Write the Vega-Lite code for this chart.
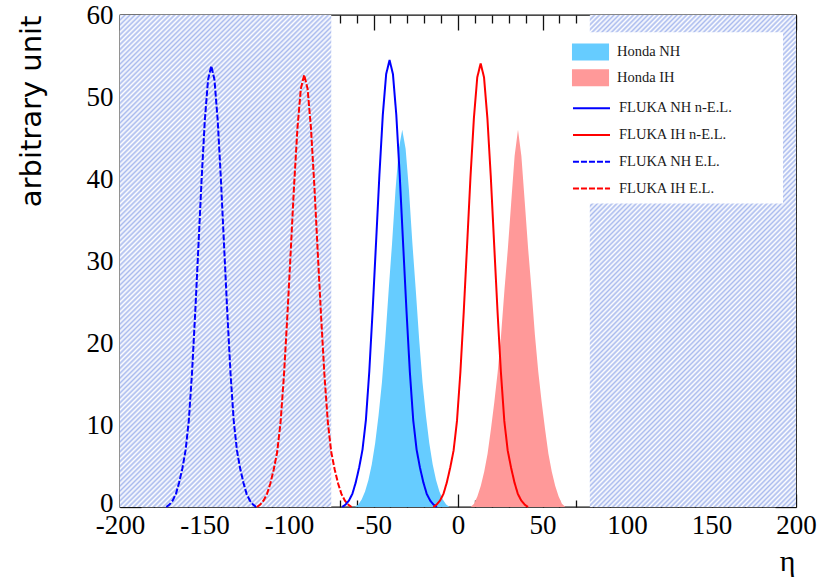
{
  "$schema": "https://vega.github.io/schema/vega-lite/v6.json",
  "width": 676,
  "height": 492,
  "autosize": "none",
  "padding": {"left": 120, "top": 15, "right": 28, "bottom": 73},
  "background": "white",
  "config": {
    "view": {"stroke": "#111", "strokeWidth": 1.3},
    "axis": {"grid": false, "domain": false, "zindex": 1, "labelFont": "Liberation Serif", "labelFontSize": 27, "labelColor": "#000", "tickColor": "#111", "tickWidth": 1.3, "labelFlush": false, "labelOverlap": false}
  },
  "datasets": {
    "regions": [
      {"x0": -200, "x1": -75, "y0": 0, "y1": 60},
      {"x0": 78, "x1": 200, "y0": 0, "y1": 60}
    ],
    "legendbox": [
      {"x0": 60, "x1": 192.3, "y0": 37, "y1": 57.9}
    ],
    "honda": [
      {"series": "Honda NH", "eta": -61, "value": 0},
      {"series": "Honda NH", "eta": -59, "value": 0.3},
      {"series": "Honda NH", "eta": -57, "value": 0.9},
      {"series": "Honda NH", "eta": -55, "value": 1.9},
      {"series": "Honda NH", "eta": -53, "value": 3.3},
      {"series": "Honda NH", "eta": -51, "value": 5.2},
      {"series": "Honda NH", "eta": -49, "value": 7.8},
      {"series": "Honda NH", "eta": -47, "value": 11.2},
      {"series": "Honda NH", "eta": -45, "value": 15.2},
      {"series": "Honda NH", "eta": -43, "value": 20.5},
      {"series": "Honda NH", "eta": -41, "value": 26.5},
      {"series": "Honda NH", "eta": -39, "value": 32.2},
      {"series": "Honda NH", "eta": -37, "value": 38.6},
      {"series": "Honda NH", "eta": -35, "value": 43.7},
      {"series": "Honda NH", "eta": -33, "value": 46},
      {"series": "Honda NH", "eta": -31, "value": 43.7},
      {"series": "Honda NH", "eta": -29, "value": 38.6},
      {"series": "Honda NH", "eta": -27, "value": 32.2},
      {"series": "Honda NH", "eta": -25, "value": 26.5},
      {"series": "Honda NH", "eta": -23, "value": 20.5},
      {"series": "Honda NH", "eta": -21, "value": 15.2},
      {"series": "Honda NH", "eta": -19, "value": 11.2},
      {"series": "Honda NH", "eta": -17, "value": 7.8},
      {"series": "Honda NH", "eta": -15, "value": 5.2},
      {"series": "Honda NH", "eta": -13, "value": 3.3},
      {"series": "Honda NH", "eta": -11, "value": 1.9},
      {"series": "Honda NH", "eta": -9, "value": 0.9},
      {"series": "Honda NH", "eta": -7, "value": 0.3},
      {"series": "Honda NH", "eta": -5, "value": 0},
      {"series": "Honda IH", "eta": 7.5, "value": 0},
      {"series": "Honda IH", "eta": 9.5, "value": 0.4},
      {"series": "Honda IH", "eta": 11.5, "value": 1.3},
      {"series": "Honda IH", "eta": 13.5, "value": 2.6},
      {"series": "Honda IH", "eta": 15.5, "value": 4.3},
      {"series": "Honda IH", "eta": 17.5, "value": 6.5},
      {"series": "Honda IH", "eta": 19.5, "value": 9.5},
      {"series": "Honda IH", "eta": 21.5, "value": 12.8},
      {"series": "Honda IH", "eta": 23.5, "value": 16.5},
      {"series": "Honda IH", "eta": 25.5, "value": 21},
      {"series": "Honda IH", "eta": 27.5, "value": 26.5},
      {"series": "Honda IH", "eta": 29.5, "value": 31.5},
      {"series": "Honda IH", "eta": 31.5, "value": 37.2},
      {"series": "Honda IH", "eta": 33.5, "value": 42.8},
      {"series": "Honda IH", "eta": 35.5, "value": 46},
      {"series": "Honda IH", "eta": 37.5, "value": 42.8},
      {"series": "Honda IH", "eta": 39.5, "value": 37.2},
      {"series": "Honda IH", "eta": 41.5, "value": 31.5},
      {"series": "Honda IH", "eta": 43.5, "value": 26.5},
      {"series": "Honda IH", "eta": 45.5, "value": 21},
      {"series": "Honda IH", "eta": 47.5, "value": 16.5},
      {"series": "Honda IH", "eta": 49.5, "value": 12.8},
      {"series": "Honda IH", "eta": 51.5, "value": 9.5},
      {"series": "Honda IH", "eta": 53.5, "value": 6.5},
      {"series": "Honda IH", "eta": 55.5, "value": 4.3},
      {"series": "Honda IH", "eta": 57.5, "value": 2.6},
      {"series": "Honda IH", "eta": 59.5, "value": 1.3},
      {"series": "Honda IH", "eta": 61.5, "value": 0.4},
      {"series": "Honda IH", "eta": 63.5, "value": 0}
    ],
    "fluka": [
      {"series": "FLUKA NH E.L.", "eta": -172.6, "value": 0},
      {"series": "FLUKA NH E.L.", "eta": -170.7, "value": 0.3},
      {"series": "FLUKA NH E.L.", "eta": -168.8, "value": 0.8},
      {"series": "FLUKA NH E.L.", "eta": -166.9, "value": 1.6},
      {"series": "FLUKA NH E.L.", "eta": -165, "value": 3.0},
      {"series": "FLUKA NH E.L.", "eta": -163.1, "value": 4.7},
      {"series": "FLUKA NH E.L.", "eta": -161.2, "value": 6.9},
      {"series": "FLUKA NH E.L.", "eta": -159.3, "value": 10.5},
      {"series": "FLUKA NH E.L.", "eta": -157.4, "value": 16.3},
      {"series": "FLUKA NH E.L.", "eta": -155.5, "value": 23.7},
      {"series": "FLUKA NH E.L.", "eta": -153.6, "value": 31.8},
      {"series": "FLUKA NH E.L.", "eta": -151.7, "value": 40.0},
      {"series": "FLUKA NH E.L.", "eta": -149.8, "value": 47.2},
      {"series": "FLUKA NH E.L.", "eta": -147.9, "value": 52.1},
      {"series": "FLUKA NH E.L.", "eta": -146, "value": 53.8},
      {"series": "FLUKA NH E.L.", "eta": -144.1, "value": 52.1},
      {"series": "FLUKA NH E.L.", "eta": -142.2, "value": 47.2},
      {"series": "FLUKA NH E.L.", "eta": -140.3, "value": 40.0},
      {"series": "FLUKA NH E.L.", "eta": -138.4, "value": 31.8},
      {"series": "FLUKA NH E.L.", "eta": -136.5, "value": 23.7},
      {"series": "FLUKA NH E.L.", "eta": -134.6, "value": 16.3},
      {"series": "FLUKA NH E.L.", "eta": -132.7, "value": 10.5},
      {"series": "FLUKA NH E.L.", "eta": -130.8, "value": 6.9},
      {"series": "FLUKA NH E.L.", "eta": -128.9, "value": 4.7},
      {"series": "FLUKA NH E.L.", "eta": -127, "value": 3.0},
      {"series": "FLUKA NH E.L.", "eta": -125.1, "value": 1.6},
      {"series": "FLUKA NH E.L.", "eta": -123.2, "value": 0.8},
      {"series": "FLUKA NH E.L.", "eta": -121.3, "value": 0.3},
      {"series": "FLUKA NH E.L.", "eta": -119.4, "value": 0},
      {"series": "FLUKA IH E.L.", "eta": -119, "value": 0},
      {"series": "FLUKA IH E.L.", "eta": -117, "value": 0.3},
      {"series": "FLUKA IH E.L.", "eta": -115, "value": 0.8},
      {"series": "FLUKA IH E.L.", "eta": -113, "value": 1.6},
      {"series": "FLUKA IH E.L.", "eta": -111, "value": 2.9},
      {"series": "FLUKA IH E.L.", "eta": -109, "value": 4.6},
      {"series": "FLUKA IH E.L.", "eta": -107, "value": 6.7},
      {"series": "FLUKA IH E.L.", "eta": -105, "value": 10.3},
      {"series": "FLUKA IH E.L.", "eta": -103, "value": 16.0},
      {"series": "FLUKA IH E.L.", "eta": -101, "value": 23.2},
      {"series": "FLUKA IH E.L.", "eta": -99, "value": 31.1},
      {"series": "FLUKA IH E.L.", "eta": -97, "value": 39.2},
      {"series": "FLUKA IH E.L.", "eta": -95, "value": 46.2},
      {"series": "FLUKA IH E.L.", "eta": -93, "value": 51.0},
      {"series": "FLUKA IH E.L.", "eta": -91, "value": 52.7},
      {"series": "FLUKA IH E.L.", "eta": -89, "value": 51.0},
      {"series": "FLUKA IH E.L.", "eta": -87, "value": 46.2},
      {"series": "FLUKA IH E.L.", "eta": -85, "value": 39.2},
      {"series": "FLUKA IH E.L.", "eta": -83, "value": 31.1},
      {"series": "FLUKA IH E.L.", "eta": -81, "value": 23.2},
      {"series": "FLUKA IH E.L.", "eta": -79, "value": 16.0},
      {"series": "FLUKA IH E.L.", "eta": -77, "value": 10.3},
      {"series": "FLUKA IH E.L.", "eta": -75, "value": 6.7},
      {"series": "FLUKA IH E.L.", "eta": -73, "value": 4.6},
      {"series": "FLUKA IH E.L.", "eta": -71, "value": 2.9},
      {"series": "FLUKA IH E.L.", "eta": -69, "value": 1.6},
      {"series": "FLUKA IH E.L.", "eta": -67, "value": 0.8},
      {"series": "FLUKA IH E.L.", "eta": -65, "value": 0.3},
      {"series": "FLUKA IH E.L.", "eta": -63, "value": 0},
      {"series": "FLUKA NH n-E.L.", "eta": -68.5, "value": 0},
      {"series": "FLUKA NH n-E.L.", "eta": -66.5, "value": 0.3},
      {"series": "FLUKA NH n-E.L.", "eta": -64.5, "value": 0.8},
      {"series": "FLUKA NH n-E.L.", "eta": -62.5, "value": 1.6},
      {"series": "FLUKA NH n-E.L.", "eta": -60.5, "value": 3.0},
      {"series": "FLUKA NH n-E.L.", "eta": -58.5, "value": 4.8},
      {"series": "FLUKA NH n-E.L.", "eta": -56.5, "value": 7.0},
      {"series": "FLUKA NH n-E.L.", "eta": -54.5, "value": 10.6},
      {"series": "FLUKA NH n-E.L.", "eta": -52.5, "value": 16.5},
      {"series": "FLUKA NH n-E.L.", "eta": -50.5, "value": 24.0},
      {"series": "FLUKA NH n-E.L.", "eta": -48.5, "value": 32.2},
      {"series": "FLUKA NH n-E.L.", "eta": -46.5, "value": 40.5},
      {"series": "FLUKA NH n-E.L.", "eta": -44.5, "value": 47.8},
      {"series": "FLUKA NH n-E.L.", "eta": -42.5, "value": 52.8},
      {"series": "FLUKA NH n-E.L.", "eta": -40.5, "value": 54.5},
      {"series": "FLUKA NH n-E.L.", "eta": -38.5, "value": 52.8},
      {"series": "FLUKA NH n-E.L.", "eta": -36.5, "value": 47.8},
      {"series": "FLUKA NH n-E.L.", "eta": -34.5, "value": 40.5},
      {"series": "FLUKA NH n-E.L.", "eta": -32.5, "value": 32.2},
      {"series": "FLUKA NH n-E.L.", "eta": -30.5, "value": 24.0},
      {"series": "FLUKA NH n-E.L.", "eta": -28.5, "value": 16.5},
      {"series": "FLUKA NH n-E.L.", "eta": -26.5, "value": 10.6},
      {"series": "FLUKA NH n-E.L.", "eta": -24.5, "value": 7.0},
      {"series": "FLUKA NH n-E.L.", "eta": -22.5, "value": 4.8},
      {"series": "FLUKA NH n-E.L.", "eta": -20.5, "value": 3.0},
      {"series": "FLUKA NH n-E.L.", "eta": -18.5, "value": 1.6},
      {"series": "FLUKA NH n-E.L.", "eta": -16.5, "value": 0.8},
      {"series": "FLUKA NH n-E.L.", "eta": -14.5, "value": 0.3},
      {"series": "FLUKA NH n-E.L.", "eta": -12.5, "value": 0},
      {"series": "FLUKA IH n-E.L.", "eta": -14.6, "value": 0},
      {"series": "FLUKA IH n-E.L.", "eta": -12.6, "value": 0.3},
      {"series": "FLUKA IH n-E.L.", "eta": -10.6, "value": 0.8},
      {"series": "FLUKA IH n-E.L.", "eta": -8.6, "value": 1.6},
      {"series": "FLUKA IH n-E.L.", "eta": -6.6, "value": 3.0},
      {"series": "FLUKA IH n-E.L.", "eta": -4.6, "value": 4.8},
      {"series": "FLUKA IH n-E.L.", "eta": -2.6, "value": 6.9},
      {"series": "FLUKA IH n-E.L.", "eta": -0.6, "value": 10.5},
      {"series": "FLUKA IH n-E.L.", "eta": 1.4, "value": 16.4},
      {"series": "FLUKA IH n-E.L.", "eta": 3.4, "value": 23.8},
      {"series": "FLUKA IH n-E.L.", "eta": 5.4, "value": 32.0},
      {"series": "FLUKA IH n-E.L.", "eta": 7.4, "value": 40.3},
      {"series": "FLUKA IH n-E.L.", "eta": 9.4, "value": 47.4},
      {"series": "FLUKA IH n-E.L.", "eta": 11.4, "value": 52.4},
      {"series": "FLUKA IH n-E.L.", "eta": 13.4, "value": 54.1},
      {"series": "FLUKA IH n-E.L.", "eta": 15.4, "value": 52.4},
      {"series": "FLUKA IH n-E.L.", "eta": 17.4, "value": 47.4},
      {"series": "FLUKA IH n-E.L.", "eta": 19.4, "value": 40.3},
      {"series": "FLUKA IH n-E.L.", "eta": 21.4, "value": 32.0},
      {"series": "FLUKA IH n-E.L.", "eta": 23.4, "value": 23.8},
      {"series": "FLUKA IH n-E.L.", "eta": 25.4, "value": 16.4},
      {"series": "FLUKA IH n-E.L.", "eta": 27.4, "value": 10.5},
      {"series": "FLUKA IH n-E.L.", "eta": 29.4, "value": 6.9},
      {"series": "FLUKA IH n-E.L.", "eta": 31.4, "value": 4.8},
      {"series": "FLUKA IH n-E.L.", "eta": 33.4, "value": 3.0},
      {"series": "FLUKA IH n-E.L.", "eta": 35.4, "value": 1.6},
      {"series": "FLUKA IH n-E.L.", "eta": 37.4, "value": 0.8},
      {"series": "FLUKA IH n-E.L.", "eta": 39.4, "value": 0.3},
      {"series": "FLUKA IH n-E.L.", "eta": 41.4, "value": 0}
    ]
  },
  "layer": [
    {
      "data": {"name": "regions"},
      "mark": {
        "type": "rect",
        "fill": {
          "gradient": "linear", "x1": 0, "y1": 0, "x2": 0.5127, "y2": 1.207,
          "stops": [
            {"offset": 0, "color": "#abe"}, {"offset": 0.0035, "color": "#fff"}, {"offset": 0.007, "color": "#abe"}, {"offset": 0.0105, "color": "#fff"}, {"offset": 0.014, "color": "#abe"}, {"offset": 0.0175, "color": "#fff"}, {"offset": 0.021, "color": "#abe"}, {"offset": 0.0245, "color": "#fff"}, {"offset": 0.028, "color": "#abe"}, {"offset": 0.0315, "color": "#fff"}, {"offset": 0.035, "color": "#abe"}, {"offset": 0.0385, "color": "#fff"}, {"offset": 0.042, "color": "#abe"}, {"offset": 0.0455, "color": "#fff"}, {"offset": 0.049, "color": "#abe"}, {"offset": 0.0525, "color": "#fff"}, {"offset": 0.056, "color": "#abe"}, {"offset": 0.0595, "color": "#fff"}, {"offset": 0.063, "color": "#abe"}, {"offset": 0.0665, "color": "#fff"},
            {"offset": 0.07, "color": "#abe"}, {"offset": 0.0735, "color": "#fff"}, {"offset": 0.077, "color": "#abe"}, {"offset": 0.0805, "color": "#fff"}, {"offset": 0.084, "color": "#abe"}, {"offset": 0.0875, "color": "#fff"}, {"offset": 0.091, "color": "#abe"}, {"offset": 0.0945, "color": "#fff"}, {"offset": 0.098, "color": "#abe"}, {"offset": 0.1015, "color": "#fff"}, {"offset": 0.105, "color": "#abe"}, {"offset": 0.1085, "color": "#fff"}, {"offset": 0.112, "color": "#abe"}, {"offset": 0.1155, "color": "#fff"}, {"offset": 0.119, "color": "#abe"}, {"offset": 0.1225, "color": "#fff"}, {"offset": 0.126, "color": "#abe"}, {"offset": 0.1295, "color": "#fff"}, {"offset": 0.133, "color": "#abe"}, {"offset": 0.1365, "color": "#fff"},
            {"offset": 0.14, "color": "#abe"}, {"offset": 0.1435, "color": "#fff"}, {"offset": 0.147, "color": "#abe"}, {"offset": 0.1505, "color": "#fff"}, {"offset": 0.154, "color": "#abe"}, {"offset": 0.1575, "color": "#fff"}, {"offset": 0.161, "color": "#abe"}, {"offset": 0.1645, "color": "#fff"}, {"offset": 0.168, "color": "#abe"}, {"offset": 0.1715, "color": "#fff"}, {"offset": 0.175, "color": "#abe"}, {"offset": 0.1785, "color": "#fff"}, {"offset": 0.182, "color": "#abe"}, {"offset": 0.1855, "color": "#fff"}, {"offset": 0.189, "color": "#abe"}, {"offset": 0.1925, "color": "#fff"}, {"offset": 0.196, "color": "#abe"}, {"offset": 0.1995, "color": "#fff"}, {"offset": 0.203, "color": "#abe"}, {"offset": 0.2065, "color": "#fff"},
            {"offset": 0.21, "color": "#abe"}, {"offset": 0.2135, "color": "#fff"}, {"offset": 0.217, "color": "#abe"}, {"offset": 0.2205, "color": "#fff"}, {"offset": 0.224, "color": "#abe"}, {"offset": 0.2275, "color": "#fff"}, {"offset": 0.231, "color": "#abe"}, {"offset": 0.2345, "color": "#fff"}, {"offset": 0.238, "color": "#abe"}, {"offset": 0.2415, "color": "#fff"}, {"offset": 0.245, "color": "#abe"}, {"offset": 0.2485, "color": "#fff"}, {"offset": 0.252, "color": "#abe"}, {"offset": 0.2555, "color": "#fff"}, {"offset": 0.259, "color": "#abe"}, {"offset": 0.2625, "color": "#fff"}, {"offset": 0.266, "color": "#abe"}, {"offset": 0.2695, "color": "#fff"}, {"offset": 0.273, "color": "#abe"}, {"offset": 0.2765, "color": "#fff"},
            {"offset": 0.28, "color": "#abe"}, {"offset": 0.2835, "color": "#fff"}, {"offset": 0.287, "color": "#abe"}, {"offset": 0.2905, "color": "#fff"}, {"offset": 0.294, "color": "#abe"}, {"offset": 0.2975, "color": "#fff"}, {"offset": 0.301, "color": "#abe"}, {"offset": 0.3045, "color": "#fff"}, {"offset": 0.308, "color": "#abe"}, {"offset": 0.3115, "color": "#fff"}, {"offset": 0.315, "color": "#abe"}, {"offset": 0.3185, "color": "#fff"}, {"offset": 0.322, "color": "#abe"}, {"offset": 0.3255, "color": "#fff"}, {"offset": 0.329, "color": "#abe"}, {"offset": 0.3325, "color": "#fff"}, {"offset": 0.336, "color": "#abe"}, {"offset": 0.3395, "color": "#fff"}, {"offset": 0.343, "color": "#abe"}, {"offset": 0.3465, "color": "#fff"},
            {"offset": 0.35, "color": "#abe"}, {"offset": 0.3535, "color": "#fff"}, {"offset": 0.357, "color": "#abe"}, {"offset": 0.3605, "color": "#fff"}, {"offset": 0.364, "color": "#abe"}, {"offset": 0.3675, "color": "#fff"}, {"offset": 0.371, "color": "#abe"}, {"offset": 0.3745, "color": "#fff"}, {"offset": 0.378, "color": "#abe"}, {"offset": 0.3815, "color": "#fff"}, {"offset": 0.385, "color": "#abe"}, {"offset": 0.3885, "color": "#fff"}, {"offset": 0.392, "color": "#abe"}, {"offset": 0.3955, "color": "#fff"}, {"offset": 0.399, "color": "#abe"}, {"offset": 0.4025, "color": "#fff"}, {"offset": 0.406, "color": "#abe"}, {"offset": 0.4095, "color": "#fff"}, {"offset": 0.413, "color": "#abe"}, {"offset": 0.4165, "color": "#fff"},
            {"offset": 0.42, "color": "#abe"}, {"offset": 0.4235, "color": "#fff"}, {"offset": 0.427, "color": "#abe"}, {"offset": 0.4305, "color": "#fff"}, {"offset": 0.434, "color": "#abe"}, {"offset": 0.4375, "color": "#fff"}, {"offset": 0.441, "color": "#abe"}, {"offset": 0.4445, "color": "#fff"}, {"offset": 0.448, "color": "#abe"}, {"offset": 0.4515, "color": "#fff"}, {"offset": 0.455, "color": "#abe"}, {"offset": 0.4585, "color": "#fff"}, {"offset": 0.462, "color": "#abe"}, {"offset": 0.4655, "color": "#fff"}, {"offset": 0.469, "color": "#abe"}, {"offset": 0.4725, "color": "#fff"}, {"offset": 0.476, "color": "#abe"}, {"offset": 0.4795, "color": "#fff"}, {"offset": 0.483, "color": "#abe"}, {"offset": 0.4865, "color": "#fff"},
            {"offset": 0.49, "color": "#abe"}, {"offset": 0.4935, "color": "#fff"}, {"offset": 0.497, "color": "#abe"}, {"offset": 0.5005, "color": "#fff"}, {"offset": 0.504, "color": "#abe"}, {"offset": 0.5075, "color": "#fff"}, {"offset": 0.511, "color": "#abe"}, {"offset": 0.5145, "color": "#fff"}, {"offset": 0.518, "color": "#abe"}, {"offset": 0.5215, "color": "#fff"}, {"offset": 0.525, "color": "#abe"}, {"offset": 0.5285, "color": "#fff"}, {"offset": 0.532, "color": "#abe"}, {"offset": 0.5355, "color": "#fff"}, {"offset": 0.539, "color": "#abe"}, {"offset": 0.5425, "color": "#fff"}, {"offset": 0.546, "color": "#abe"}, {"offset": 0.5495, "color": "#fff"}, {"offset": 0.553, "color": "#abe"}, {"offset": 0.5565, "color": "#fff"},
            {"offset": 0.56, "color": "#abe"}, {"offset": 0.5635, "color": "#fff"}, {"offset": 0.567, "color": "#abe"}, {"offset": 0.5705, "color": "#fff"}, {"offset": 0.574, "color": "#abe"}, {"offset": 0.5775, "color": "#fff"}, {"offset": 0.581, "color": "#abe"}, {"offset": 0.5845, "color": "#fff"}, {"offset": 0.588, "color": "#abe"}, {"offset": 0.5915, "color": "#fff"}, {"offset": 0.595, "color": "#abe"}, {"offset": 0.5985, "color": "#fff"}, {"offset": 0.602, "color": "#abe"}, {"offset": 0.6055, "color": "#fff"}, {"offset": 0.609, "color": "#abe"}, {"offset": 0.6125, "color": "#fff"}, {"offset": 0.616, "color": "#abe"}, {"offset": 0.6195, "color": "#fff"}, {"offset": 0.623, "color": "#abe"}, {"offset": 0.6265, "color": "#fff"},
            {"offset": 0.63, "color": "#abe"}, {"offset": 0.6335, "color": "#fff"}, {"offset": 0.637, "color": "#abe"}, {"offset": 0.6405, "color": "#fff"}, {"offset": 0.644, "color": "#abe"}, {"offset": 0.6475, "color": "#fff"}, {"offset": 0.651, "color": "#abe"}, {"offset": 0.6545, "color": "#fff"}, {"offset": 0.658, "color": "#abe"}, {"offset": 0.6615, "color": "#fff"}, {"offset": 0.665, "color": "#abe"}, {"offset": 0.6685, "color": "#fff"}, {"offset": 0.672, "color": "#abe"}, {"offset": 0.6755, "color": "#fff"}, {"offset": 0.679, "color": "#abe"}, {"offset": 0.6825, "color": "#fff"}, {"offset": 0.686, "color": "#abe"}, {"offset": 0.6895, "color": "#fff"}, {"offset": 0.693, "color": "#abe"}, {"offset": 0.6965, "color": "#fff"},
            {"offset": 0.7, "color": "#abe"}, {"offset": 0.7035, "color": "#fff"}, {"offset": 0.707, "color": "#abe"}, {"offset": 0.7105, "color": "#fff"}, {"offset": 0.714, "color": "#abe"}, {"offset": 0.7175, "color": "#fff"}, {"offset": 0.721, "color": "#abe"}, {"offset": 0.7245, "color": "#fff"}, {"offset": 0.728, "color": "#abe"}, {"offset": 0.7315, "color": "#fff"}, {"offset": 0.735, "color": "#abe"}, {"offset": 0.7385, "color": "#fff"}, {"offset": 0.742, "color": "#abe"}, {"offset": 0.7455, "color": "#fff"}, {"offset": 0.749, "color": "#abe"}, {"offset": 0.7525, "color": "#fff"}, {"offset": 0.756, "color": "#abe"}, {"offset": 0.7595, "color": "#fff"}, {"offset": 0.763, "color": "#abe"}, {"offset": 0.7665, "color": "#fff"},
            {"offset": 0.77, "color": "#abe"}, {"offset": 0.7735, "color": "#fff"}, {"offset": 0.777, "color": "#abe"}, {"offset": 0.7805, "color": "#fff"}, {"offset": 0.784, "color": "#abe"}, {"offset": 0.7875, "color": "#fff"}, {"offset": 0.791, "color": "#abe"}, {"offset": 0.7945, "color": "#fff"}, {"offset": 0.798, "color": "#abe"}, {"offset": 0.8015, "color": "#fff"}, {"offset": 0.805, "color": "#abe"}, {"offset": 0.8085, "color": "#fff"}, {"offset": 0.812, "color": "#abe"}, {"offset": 0.8155, "color": "#fff"}, {"offset": 0.819, "color": "#abe"}, {"offset": 0.8225, "color": "#fff"}, {"offset": 0.826, "color": "#abe"}, {"offset": 0.8295, "color": "#fff"}, {"offset": 0.833, "color": "#abe"}, {"offset": 0.8365, "color": "#fff"},
            {"offset": 0.84, "color": "#abe"}, {"offset": 0.8435, "color": "#fff"}, {"offset": 0.847, "color": "#abe"}, {"offset": 0.8505, "color": "#fff"}, {"offset": 0.854, "color": "#abe"}, {"offset": 0.8575, "color": "#fff"}, {"offset": 0.861, "color": "#abe"}, {"offset": 0.8645, "color": "#fff"}, {"offset": 0.868, "color": "#abe"}, {"offset": 0.8715, "color": "#fff"}, {"offset": 0.875, "color": "#abe"}, {"offset": 0.8785, "color": "#fff"}, {"offset": 0.882, "color": "#abe"}, {"offset": 0.8855, "color": "#fff"}, {"offset": 0.889, "color": "#abe"}, {"offset": 0.8925, "color": "#fff"}, {"offset": 0.896, "color": "#abe"}, {"offset": 0.8995, "color": "#fff"}, {"offset": 0.903, "color": "#abe"}, {"offset": 0.9065, "color": "#fff"},
            {"offset": 0.91, "color": "#abe"}, {"offset": 0.9135, "color": "#fff"}, {"offset": 0.917, "color": "#abe"}, {"offset": 0.9205, "color": "#fff"}, {"offset": 0.924, "color": "#abe"}, {"offset": 0.9275, "color": "#fff"}, {"offset": 0.931, "color": "#abe"}, {"offset": 0.9345, "color": "#fff"}, {"offset": 0.938, "color": "#abe"}, {"offset": 0.9415, "color": "#fff"}, {"offset": 0.945, "color": "#abe"}, {"offset": 0.9485, "color": "#fff"}, {"offset": 0.952, "color": "#abe"}, {"offset": 0.9555, "color": "#fff"}, {"offset": 0.959, "color": "#abe"}, {"offset": 0.9625, "color": "#fff"}, {"offset": 0.966, "color": "#abe"}, {"offset": 0.9695, "color": "#fff"}, {"offset": 0.973, "color": "#abe"}, {"offset": 0.9765, "color": "#fff"},
            {"offset": 0.98, "color": "#abe"}, {"offset": 0.9835, "color": "#fff"}, {"offset": 0.987, "color": "#abe"}, {"offset": 0.9905, "color": "#fff"}, {"offset": 0.994, "color": "#abe"}, {"offset": 0.9975, "color": "#fff"}
          ]
        }
      },
      "encoding": {
        "x": {"field": "x0", "type": "quantitative", "scale": {"domain": [-200, 200], "nice": false, "zero": false},
          "axis": {"orient": "top", "values": [-200,-190,-180,-170,-160,-150,-140,-130,-120,-110,-100,-90,-80,-70,-60,-50,-40,-30,-20,-10,0,10,20,30,40,50,60,70,80,90,100,110,120,130,140,150,160,170,180,190,200], "labels": false, "title": null,
            "tickSize": {"condition": {"test": "datum.value % 50 === 0", "value": -15}, "value": -8}}},
        "x2": {"field": "x1"},
        "y": {"field": "y0", "type": "quantitative", "scale": {"domain": [0, 60], "nice": false, "zero": false},
          "axis": {"orient": "right", "values": [0,2,4,6,8,10,12,14,16,18,20,22,24,26,28,30,32,34,36,38,40,42,44,46,48,50,52,54,56,58,60], "labels": false, "title": null,
            "tickSize": {"condition": {"test": "datum.value % 10 === 0", "value": -21}, "value": -9}}},
        "y2": {"field": "y1"}
      }
    },
    {
      "data": {"name": "legendbox"},
      "mark": {"type": "rect", "fill": "white"},
      "encoding": {
        "x": {"field": "x0", "type": "quantitative", "scale": {"domain": [-200, 200], "nice": false, "zero": false}, "axis": null},
        "x2": {"field": "x1"},
        "y": {"field": "y0", "type": "quantitative", "scale": {"domain": [0, 60], "nice": false, "zero": false}, "axis": null},
        "y2": {"field": "y1"}
      }
    },
    {
      "data": {"name": "honda"},
      "mark": {"type": "area", "interpolate": "linear", "opacity": 1},
      "encoding": {
        "x": {"field": "eta", "type": "quantitative", "scale": {"domain": [-200, 200], "nice": false, "zero": false},
          "axis": {"orient": "bottom", "values": [-200,-190,-180,-170,-160,-150,-140,-130,-120,-110,-100,-90,-80,-70,-60,-50,-40,-30,-20,-10,0,10,20,30,40,50,60,70,80,90,100,110,120,130,140,150,160,170,180,190,200],
            "labelExpr": "datum.value % 50 === 0 ? '' + datum.value : ''",
            "labelPadding": 18,
            "tickSize": {"condition": {"test": "datum.value % 50 === 0", "value": -13}, "value": -7},
            "title": "η", "titleFont": "Liberation Serif", "titleFontSize": 30, "titleFontWeight": "normal", "titleColor": "#000",
            "titleAnchor": "end", "titleAlign": "right", "titleBaseline": "alphabetic", "titleX": 675, "titleY": 63}},
        "y": {"field": "value", "type": "quantitative", "scale": {"domain": [0, 60], "nice": false, "zero": false},
          "axis": {"orient": "left", "values": [0,2,4,6,8,10,12,14,16,18,20,22,24,26,28,30,32,34,36,38,40,42,44,46,48,50,52,54,56,58,60],
            "labelExpr": "datum.value % 10 === 0 ? '' + datum.value : ''",
            "labelPadding": 28, "labelBaseline": "middle",
            "labelOffset": {"condition": {"test": "datum.value === 0", "value": -4}, "value": 0},
            "tickSize": {"condition": {"test": "datum.value % 10 === 0", "value": -21}, "value": -10},
            "title": "arbitrary unit", "titleFont": "DejaVu Sans", "titleFontSize": 29, "titleFontWeight": "normal", "titleColor": "#000",
            "titleAngle": -90, "titleAlign": "right", "titleBaseline": "middle", "titleX": -89, "titleY": 0}},
        "fill": {"field": "series", "type": "nominal",
          "scale": {"domain": ["Honda NH", "Honda IH"], "range": ["#66ccff", "#ff9999"]},
          "legend": {"orient": "none", "legendX": 462, "legendY": 28.5, "title": null, "padding": 0,
            "symbolSize": 289, "symbolType": "M-2.18,-1H2.18V1H-2.18Z", "symbolStrokeWidth": 0, "symbolOpacity": 1,
            "labelFont": "Liberation Serif", "labelFontSize": 14.5, "labelColor": "#1a1a1a", "labelOffset": 18, "labelLimit": 0,
            "rowPadding": 8.8}}
      }
    },
    {
      "data": {"name": "fluka"},
      "mark": {"type": "line", "interpolate": "linear", "strokeWidth": 2},
      "encoding": {
        "x": {"field": "eta", "type": "quantitative", "scale": {"domain": [-200, 200], "nice": false, "zero": false}, "axis": null},
        "y": {"field": "value", "type": "quantitative", "scale": {"domain": [0, 60], "nice": false, "zero": false}, "axis": null},
        "stroke": {"field": "series", "type": "nominal",
          "scale": {"domain": ["FLUKA NH n-E.L.", "FLUKA IH n-E.L.", "FLUKA NH E.L.", "FLUKA IH E.L."], "range": ["#0000ff", "#ff0000", "#0000ff", "#ff0000"]},
          "legend": {"orient": "none", "legendX": 462, "legendY": 83.7, "title": null, "padding": 0,
            "symbolSize": 289, "symbolType": "M-2.18,0H2.18", "symbolStrokeWidth": 2, "symbolOpacity": 1,
            "labelFont": "Liberation Serif", "labelFontSize": 14.5, "labelColor": "#1a1a1a", "labelOffset": 18, "labelLimit": 0,
            "rowPadding": 10.8}},
        "strokeDash": {"field": "series", "type": "nominal",
          "scale": {"domain": ["FLUKA NH n-E.L.", "FLUKA IH n-E.L.", "FLUKA NH E.L.", "FLUKA IH E.L."], "range": [[1, 0], [1, 0], [6, 2], [6, 2]]},
          "legend": {"orient": "none", "legendX": 462, "legendY": 83.7, "title": null, "padding": 0,
            "symbolSize": 289, "symbolType": "M-2.18,0H2.18", "symbolStrokeWidth": 2, "symbolOpacity": 1,
            "labelFont": "Liberation Serif", "labelFontSize": 14.5, "labelColor": "#1a1a1a", "labelOffset": 18, "labelLimit": 0,
            "rowPadding": 10.8}}
      }
    }
  ],
  "resolve": {"axis": {"x": "independent", "y": "independent"}}
}
